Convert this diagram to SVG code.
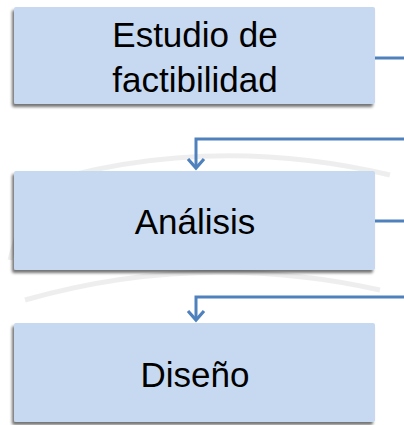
<svg xmlns="http://www.w3.org/2000/svg" width="404" height="425" viewBox="0 0 404 425">
  <defs>
    <filter id="sh" x="-10%" y="-10%" width="120%" height="130%">
      <feGaussianBlur in="SourceAlpha" stdDeviation="1.5"/>
      <feOffset dx="-2" dy="3" result="b"/>
      <feComponentTransfer><feFuncA type="linear" slope="0.55"/></feComponentTransfer>
      <feMerge><feMergeNode/><feMergeNode in="SourceGraphic"/></feMerge>
    </filter>
  </defs>
  <style>
    .box { fill: #C6D9F1; filter: url(#sh); }
    .lbl { font-family: "Liberation Sans", Arial, sans-serif; font-size: 35px; fill: #000; text-anchor: middle; }
    .conn { fill: none; stroke: #4F81BD; stroke-width: 3; }
    .head { fill: none; stroke: #4F81BD; stroke-width: 3.2; stroke-linejoin: miter; }
  </style>
  <rect width="404" height="425" fill="#fff"/>
  <g id="watermark" fill="none" stroke="#ebebeb" stroke-width="5" opacity="0.8">
    <path d="M20,190 Q200,130 390,175"/>
    <path d="M25,300 Q200,250 380,290"/>
    <path d="M10,260 Q20,220 35,200"/>
  </g>
  <g id="connectors">
    <path class="conn" d="M375,58 H404"/>
    <path class="conn" d="M404,139 H196 V168"/>
    <path class="head" d="M188,159 L196,168 L204,159"/>
    <path class="conn" d="M375,221 H404"/>
    <path class="conn" d="M404,297 H196 V320"/>
    <path class="head" d="M188,311 L196,320 L204,311"/>
  </g>
  <g id="n1">
    <rect class="box" x="14" y="7" width="361" height="97" rx="2"/>
    <text class="lbl" x="195" y="47">Estudio de</text>
    <text class="lbl" x="195" y="92">factibilidad</text>
  </g>
  <g id="n2">
    <rect class="box" x="14" y="171" width="361" height="99" rx="2"/>
    <text class="lbl" x="195" y="234">Análisis</text>
  </g>
  <g id="n3">
    <rect class="box" x="14" y="323" width="361" height="99" rx="2"/>
    <text class="lbl" x="195" y="387">Diseño</text>
  </g>
</svg>
